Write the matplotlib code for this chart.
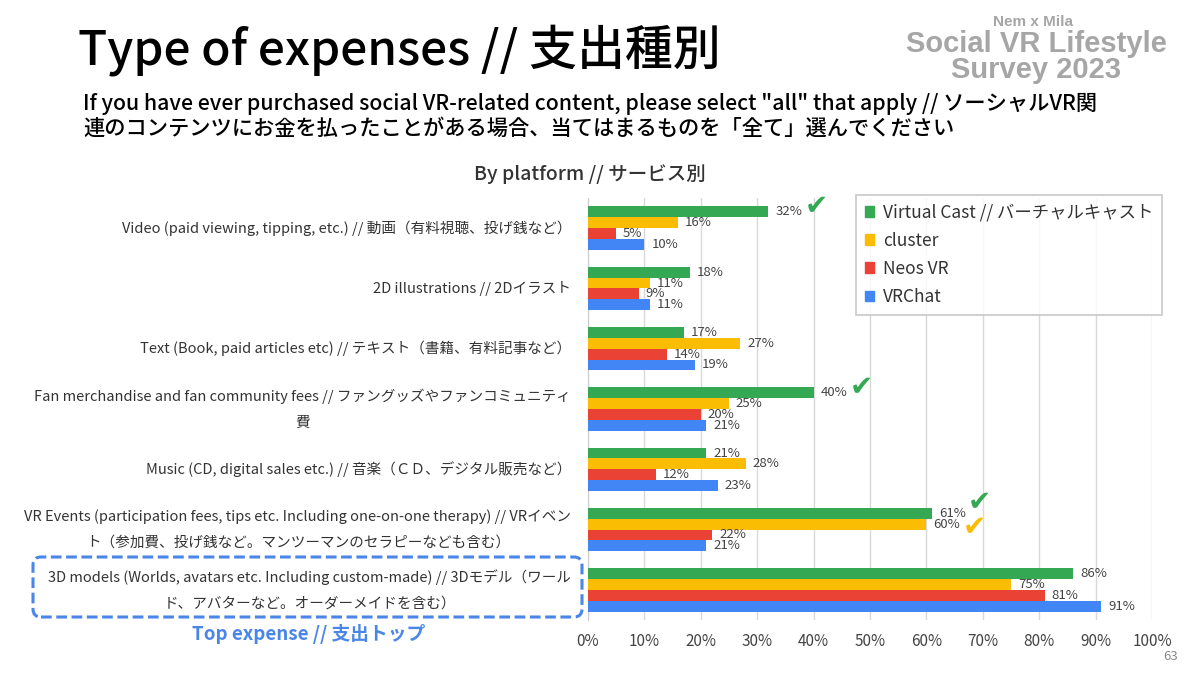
import numpy as np
import matplotlib
matplotlib.use("Agg")
import matplotlib.pyplot as plt
from matplotlib.patches import FancyBboxPatch, Patch

plt.rcParams['font.family'] = ['Noto Sans CJK JP', 'DejaVu Sans']

# ==============================
# data
# ==============================
categories = [
    "Video (paid viewing, tipping, etc.) // 動画（有料視聴、投げ銭など）",
    "2D illustrations // 2Dイラスト",
    "Text (Book, paid articles etc) // テキスト（書籍、有料記事など）",
    "Fan merchandise and fan community fees // ファングッズやファンコミュニティ\n費",
    "Music (CD, digital sales etc.) // 音楽（ＣＤ、デジタル販売など）",
    "VR Events (participation fees, tips etc. Including one-on-one therapy) // VRイベン\nト（参加費、投げ銭など。マンツーマンのセラピーなども含む）",
    "3D models (Worlds, avatars etc. Including custom-made) // 3Dモデル（ワール\nド、アバターなど。オーダーメイドを含む）",
]
series_names = ["Virtual Cast // バーチャルキャスト", "cluster", "Neos VR", "VRChat"]
virtual_cast = [32, 18, 17, 40, 21, 61, 86]
cluster = [16, 11, 27, 25, 28, 60, 75]
neos_vr = [5, 9, 14, 20, 12, 22, 81]
vrchat = [10, 11, 19, 21, 23, 21, 91]
series_values = [virtual_cast, cluster, neos_vr, vrchat]
x_ticks = [0, 10, 20, 30, 40, 50, 60, 70, 80, 90, 100]

# checkmarks: (series index, category index, vertical nudge in points)
checks = [(0, 0, 4), (0, 3, 4), (0, 5, 8), (1, 5, -2)]

colors = ["#34A853", "#FBBC04", "#EA4335", "#4285F4"]
label_color = "#444444"

# ==============================
# figure
# ==============================
fig = plt.figure(figsize=(12, 6.75), dpi=100)
ax = fig.add_axes([588 / 1200, 55 / 675, 564 / 1200, 422 / 675])

y = np.arange(len(categories))
h = 0.18
offsets = [-1.5 * h, -0.5 * h, 0.5 * h, 1.5 * h]

for i, vals in enumerate(series_values):
    bars = ax.barh(y + offsets[i], vals, height=h, color=colors[i],
                   label=series_names[i], zorder=3)
    for b, v in zip(bars, vals):
        ax.annotate(f"{v}%", (v, b.get_y() + h / 2), xytext=(5, 0),
                    textcoords="offset points", va="center", ha="left",
                    fontsize=9.5, color=label_color, zorder=4)

for si, ci, dy in checks:
    v = series_values[si][ci]
    ax.annotate("✔", (v, ci + offsets[si]), xytext=(26, dy),
                textcoords="offset points", va="center", ha="left",
                fontsize=20, color=colors[si], family="DejaVu Sans", zorder=5)

# category labels
for yi, cat in zip(y, categories):
    ax.annotate(cat, (0, yi), xycoords=("axes fraction", "data"),
                xytext=(-12, 0), textcoords="offset points", ha="right",
                va="center", multialignment="center", linespacing=2.1,
                fontsize=10.5, color="#333333")

ax.set_xlim(0, 100)
ax.set_ylim(len(categories) - 0.5, -0.5)
ax.set_xticks(x_ticks)
ax.set_xticklabels([f"{t}%" for t in x_ticks])
ax.set_yticks(y)
ax.set_yticklabels([])
ax.tick_params(axis="y", length=0)
ax.tick_params(axis="x", length=0, pad=9, labelsize=11, labelcolor=label_color)
ax.grid(axis="x", color="#d9d9d9", linewidth=1, zorder=0)
for s in ["top", "right", "bottom"]:
    ax.spines[s].set_visible(False)
ax.spines["left"].set_color("#cccccc")

handles = [Patch(color=c, label=n) for c, n in zip(colors, series_names)]
leg = ax.legend(handles=handles, loc="upper right", bbox_to_anchor=(1.018, 1.007),
                borderaxespad=0, frameon=True, fancybox=False, fontsize=12.5,
                handlelength=0.55, handleheight=0.55, handletextpad=0.5,
                labelspacing=0.58, borderpad=0.5, edgecolor="#bbbbbb")
leg.get_frame().set_linewidth(1.2)
for t in leg.get_texts():
    t.set_color("#333333")

# ==============================
# texts
# ==============================
fig.text(78 / 1200, 1 - 50 / 675, "Type of expenses // 支出種別", fontsize=34.5,
         fontweight="medium", va="center", ha="left", color="black")
fig.text(83 / 1200, 1 - 104 / 675,
         "If you have ever purchased social VR-related content, please select \"all\" that apply // ソーシャルVR関",
         fontsize=15.3, fontweight="medium", va="center", ha="left", color="black")
fig.text(83 / 1200, 1 - 129 / 675,
         "連のコンテンツにお金を払ったことがある場合、当てはまるものを「全て」選んでください",
         fontsize=15.3, fontweight="medium", va="center", ha="left", color="black")
fig.text(590 / 1200, 1 - 174 / 675, "By platform // サービス別", fontsize=14,
         fontweight="medium", va="center", ha="center", color="#333333")

logo = "#a6a6a6"
fig.text(1033 / 1200, 1 - 22 / 675, "Nem x Mila", fontsize=11, fontweight="bold",
         family="Liberation Sans", va="center", ha="center", color=logo)
fig.text(1036 / 1200, 1 - 44 / 675, "Social VR Lifestyle", fontsize=21, fontweight="bold",
         family="Liberation Sans", va="center", ha="center", color=logo)
fig.text(1036 / 1200, 1 - 70 / 675, "Survey 2023", fontsize=21, fontweight="bold",
         family="Liberation Sans", va="center", ha="center", color=logo)

box = FancyBboxPatch((0.33, (675 - 617) / 100), 5.49, 0.60,
                     boxstyle="round,pad=0,rounding_size=0.08",
                     transform=fig.dpi_scale_trans, fill=False,
                     edgecolor="#4a86e8", linewidth=2.2, linestyle=(0, (3.5, 1.5)))
fig.patches.append(box)
fig.text(309 / 1200, 1 - 634 / 675, "Top expense // 支出トップ", fontsize=13.5,
         fontweight="bold", va="center", ha="center", color="#4a86e8")
fig.text(1171 / 1200, 1 - 657 / 675, "63", fontsize=9.5, va="center", ha="center",
         color="#888888")

fig.savefig("out.png", dpi=100)
